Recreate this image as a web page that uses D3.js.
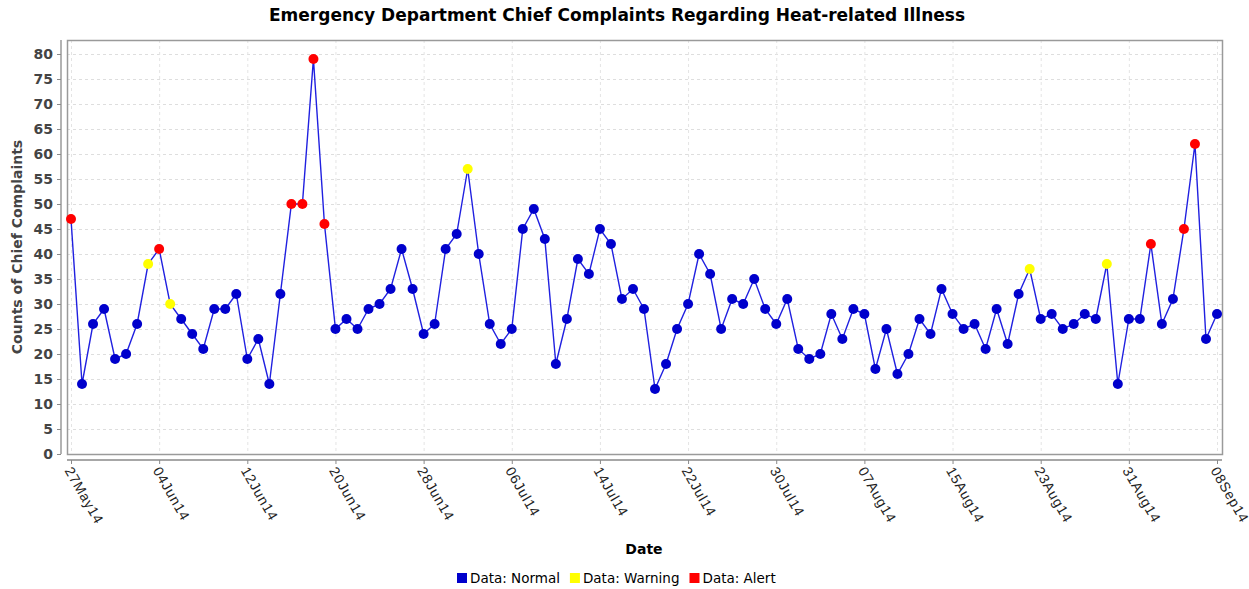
<!DOCTYPE html>
<html><head><meta charset="utf-8">
<script src="https://cdn.jsdelivr.net/npm/d3@7/dist/d3.min.js"></script>
<style>body{margin:0;background:#fff;overflow:hidden}</style>
</head><body>
<svg id="chart" width="1249" height="589"></svg>
<script>
// ---------------- data ----------------
const titleText = "Emergency Department Chief Complaints Regarding Heat-related Illness";
const xTitle = "Date";
const yTitle = "Counts of Chief Complaints";
const firstDay = "27May14";
const lastDay = "08Sep14";
const counts = [
  47,14,26,29,19,20,26,38,41,30,
  27,24,21,29,29,32,19,23,14,32,
  50,50,79,46,25,27,25,29,30,33,
  41,33,24,26,41,44,57,40,26,22,
  25,45,49,43,18,27,39,36,45,42,
  31,33,29,13,18,25,30,40,36,25,
  31,30,35,29,26,31,21,19,20,28,
  23,29,28,17,25,16,20,27,24,33,
  28,25,26,21,29,22,32,37,27,28,
  25,26,28,27,38,14,27,27,42,26,
  31,45,62,23,28
];
// day numbers (1 = first day) flagged by the detector
const warningDays = [8,10,37,88,95];
const alertDays = [1,9,21,22,23,24,99,102,103];
const tickLabels = ["27May14","04Jun14","12Jun14","20Jun14","28Jun14","06Jul14","14Jul14",
  "22Jul14","30Jul14","07Aug14","15Aug14","23Aug14","31Aug14","08Sep14"];
const yTicks = [0,5,10,15,20,25,30,35,40,45,50,55,60,65,70,75,80];
const legendItems = ["Normal","Warning","Alert"];
const statusColor = {Normal:"#0000cc", Warning:"#ffff00", Alert:"#ff0000"};

// ---------------- build ----------------
const parse = d3.timeParse("%d%b%y");
const days = d3.timeDay.range(parse(firstDay), d3.timeDay.offset(parse(lastDay), 1));
const data = days.map((d, i) => ({
  date: d,
  value: counts[i],
  status: alertDays.includes(i + 1) ? "Alert" : (warningDays.includes(i + 1) ? "Warning" : "Normal")
}));

const svg = d3.select("#chart");
const plot = {left: 67, right: 1222, top: 40, bottom: 454};

const x = d3.scaleTime()
  .domain([parse(firstDay), parse(lastDay)])
  .range([71, 1217]);
const y = d3.scaleLinear()
  .domain([0, 82.8])
  .range([plot.bottom, plot.top]);

const FONT = "'DejaVu Sans', sans-serif";

// gridlines
const grid = svg.append("g");
grid.selectAll("line.h").data(yTicks).join("line")
  .attr("x1", plot.left).attr("x2", plot.right)
  .attr("y1", d => y(d) + 0.5).attr("y2", d => y(d) + 0.5)
  .attr("stroke", "#dedede").attr("stroke-width", 1).attr("stroke-dasharray", "3,3");
grid.selectAll("line.v").data(tickLabels).join("line")
  .attr("x1", d => x(parse(d)) + 0.5).attr("x2", d => x(parse(d)) + 0.5)
  .attr("y1", plot.top).attr("y2", plot.bottom)
  .attr("stroke", "#e4e4e4").attr("stroke-width", 1).attr("stroke-dasharray", "3,3");

// plot frame
svg.append("rect")
  .attr("x", plot.left + 0.5).attr("y", plot.top + 0.5)
  .attr("width", plot.right - plot.left).attr("height", plot.bottom - plot.top)
  .attr("fill", "none").attr("stroke", "#9a9a9a").attr("stroke-width", 1.5);

// y axis
const yAxis = d3.axisLeft(y).tickValues(yTicks).tickSize(4).tickPadding(4);
const gy = svg.append("g").attr("transform", "translate(61,0)").call(yAxis);
gy.select(".domain").attr("stroke", "#8a8a8a").attr("stroke-width", 1.3)
  .attr("d", `M0,${plot.top}V${plot.bottom}`);
gy.selectAll(".tick line").attr("stroke", "#8a8a8a");
gy.selectAll(".tick text").attr("font-family", FONT).attr("font-size", 14)
  .attr("font-weight", "bold").attr("fill", "#444");

// x axis
const xAxis = d3.axisBottom(x).tickValues(tickLabels.map(parse))
  .tickFormat((d, i) => tickLabels[i]).tickSize(4);
const gx = svg.append("g").attr("transform", "translate(0,460)").call(xAxis);
gx.select(".domain").attr("stroke", "#8a8a8a").attr("stroke-width", 1.3)
  .attr("d", `M${plot.left},0H${plot.right}`);
gx.selectAll(".tick line").attr("stroke", "#8a8a8a");
gx.selectAll(".tick text")
  .attr("font-family", "'Liberation Sans', Arial, sans-serif").attr("font-size", 14)
  .attr("letter-spacing", "0.8px")
  .attr("fill", "#222")
  .attr("text-anchor", "start")
  .attr("y", 0).attr("dy", "0.35em")
  .attr("transform", "translate(-3,8) rotate(60)");

// line
const line = d3.line().x(d => x(d.date)).y(d => y(d.value));
svg.append("path").datum(data)
  .attr("d", line).attr("fill", "none")
  .attr("stroke", "#2020e0").attr("stroke-width", 1.4);

// markers
svg.append("g").selectAll("circle").data(data).join("circle")
  .attr("cx", d => x(d.date)).attr("cy", d => y(d.value)).attr("r", 5)
  .attr("fill", d => statusColor[d.status]);

// title
svg.append("text").attr("x", 617).attr("y", 21).attr("text-anchor", "middle")
  .attr("font-family", FONT).attr("font-weight", "bold").attr("font-size", 17)
  .attr("fill", "#000").text(titleText);

// axis titles
svg.append("text").attr("x", 644).attr("y", 554).attr("text-anchor", "middle")
  .attr("font-family", FONT).attr("font-weight", "bold").attr("font-size", 14)
  .attr("fill", "#000").text(xTitle);
svg.append("text").attr("transform", "translate(22,247) rotate(-90)").attr("text-anchor", "middle")
  .attr("font-family", FONT).attr("font-weight", "bold").attr("font-size", 14)
  .attr("fill", "#444").text(yTitle);

// legend
const legend = svg.append("g");
let lx = 457;
legendItems.forEach(k => {
  const g = legend.append("g").attr("transform", `translate(${lx},0)`);
  g.append("rect").attr("x", 0).attr("y", 573).attr("width", 10).attr("height", 10)
    .attr("fill", statusColor[k]);
  const t = g.append("text").attr("x", 13).attr("y", 582.5)
    .attr("font-family", FONT).attr("font-size", 13.5).attr("fill", "#000")
    .text("Data: " + k);
  lx += 13 + t.node().getComputedTextLength() + 10;
});
</script>
</body></html>
